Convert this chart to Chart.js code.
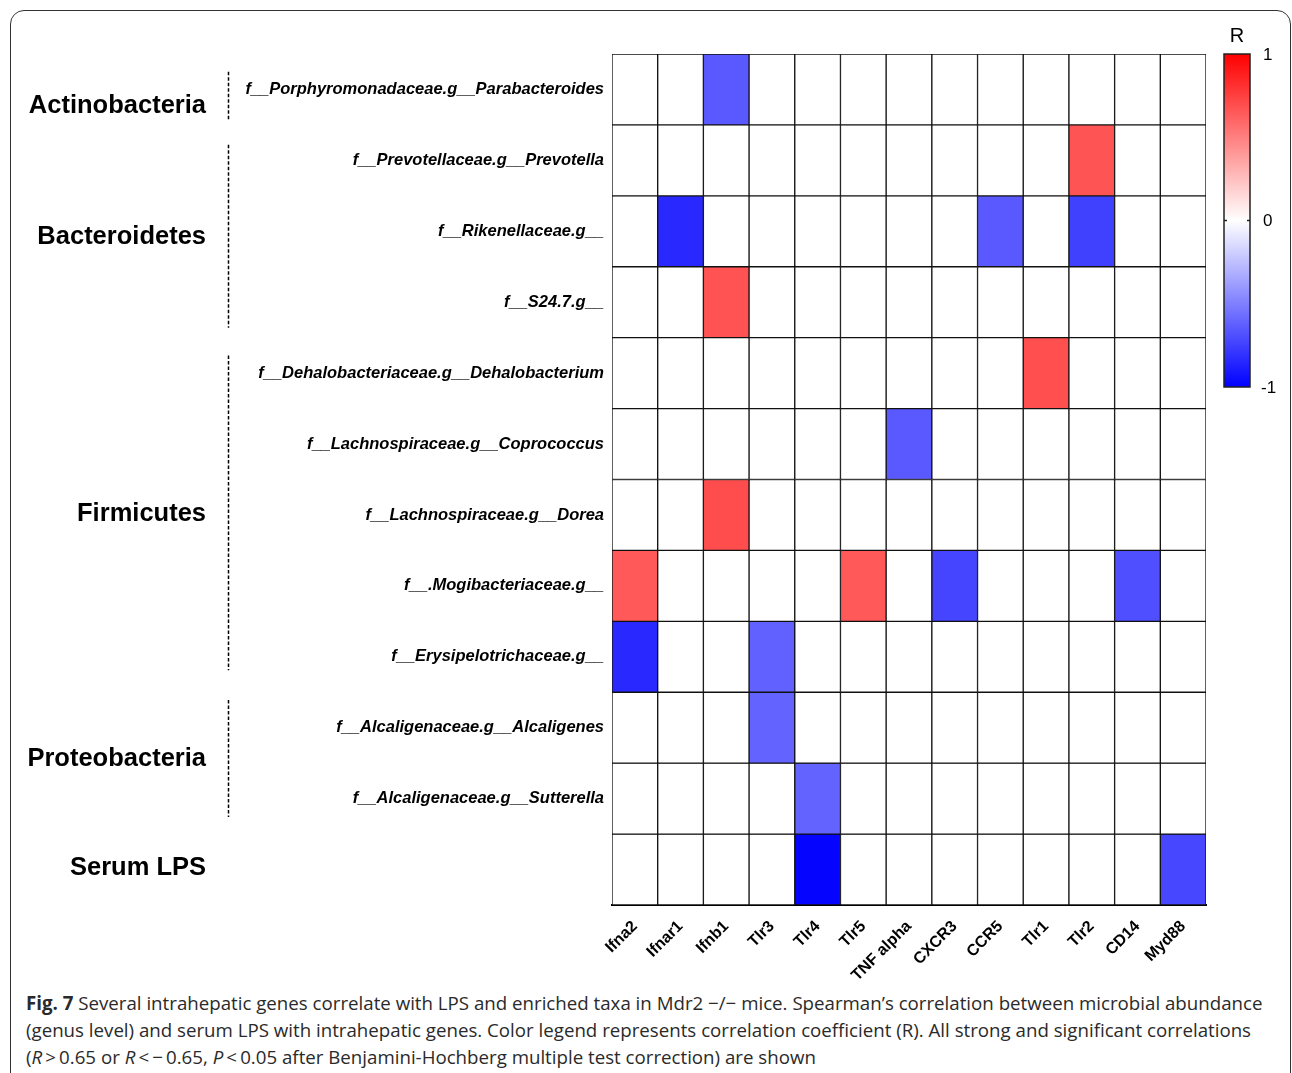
<!DOCTYPE html>
<html>
<head>
<meta charset="utf-8">
<script src="https://cdn.jsdelivr.net/npm/chart.js@4.4.1/dist/chart.umd.min.js"></script>
<style>
    body { margin: 0; background: #fff; width: 1292px; height: 1073px; overflow: hidden; position: relative; }
    #frame { position: absolute; left: 10px; top: 10px; width: 1279px; height: 1100px; border: 1.5px solid #333; border-radius: 14px; }
    #wrap { position: absolute; left: 0; top: 0; width: 1292px; height: 985px; }
    #caption { position: absolute; left: 26px; top: 989px; font-family: "Open Sans", sans-serif; font-size: 18.7px; line-height: 27px; color: #2a2a2a; white-space: nowrap; }
    #caption b { font-weight: 700; }
</style>
</head>
<body>
<div id="frame"></div>
<div id="wrap"><canvas id="heat"></canvas></div>
<div id="caption">
    <b>Fig. 7</b> Several intrahepatic genes correlate with LPS and enriched taxa in Mdr2 &minus;/&minus; mice. Spearman&rsquo;s correlation between microbial abundance<br>
    (genus level) and serum LPS with intrahepatic genes. Color legend represents correlation coefficient (R). All strong and significant correlations<br>
    (<i>R</i>&thinsp;&gt;&thinsp;0.65 or <i>R</i>&thinsp;&lt;&thinsp;&minus;&thinsp;0.65, <i>P</i>&thinsp;&lt;&thinsp;0.05 after Benjamini-Hochberg multiple test correction) are shown
</div>
<script>
// ------------------ DADOS ------------------
const genes = ["Ifna2", "Ifnar1", "Ifnb1", "Tlr3", "Tlr4", "Tlr5", "TNF alpha", "CXCR3", "CCR5", "Tlr1", "Tlr2", "CD14", "Myd88"];
const taxa = [
    "f__Porphyromonadaceae.g__Parabacteroides",
    "f__Prevotellaceae.g__Prevotella",
    "f__Rikenellaceae.g__",
    "f__S24.7.g__",
    "f__Dehalobacteriaceae.g__Dehalobacterium",
    "f__Lachnospiraceae.g__Coprococcus",
    "f__Lachnospiraceae.g__Dorea",
    "f__.Mogibacteriaceae.g__",
    "f__Erysipelotrichaceae.g__",
    "f__Alcaligenaceae.g__Alcaligenes",
    "f__Alcaligenaceae.g__Sutterella",
    ""
];
const phyla = ["Actinobacteria", "Bacteroidetes", "Firmicutes", "Proteobacteria", "Serum LPS"];
const N = null;
// R por linha (mesma ordem de genes)
const rParabacteroides = [N, N, -0.65, N, N, N, N, N, N, N, N, N, N];
const rPrevotella      = [N, N, N, N, N, N, N, N, N, N, 0.67, N, N];
const rRikenellaceae   = [N, -0.84, N, N, N, N, N, N, -0.65, N, -0.75, N, N];
const rS247            = [N, N, 0.68, N, N, N, N, N, N, N, N, N, N];
const rDehalobacterium = [N, N, N, N, N, N, N, N, N, 0.69, N, N, N];
const rCoprococcus     = [N, N, N, N, N, N, -0.65, N, N, N, N, N, N];
const rDorea           = [N, N, 0.70, N, N, N, N, N, N, N, N, N, N];
const rMogibacteriaceae = [0.65, N, N, N, N, 0.65, N, -0.73, N, N, N, -0.69, N];
const rErysipelotrichaceae = [-0.84, N, N, -0.62, N, N, N, N, N, N, N, N, N];
const rAlcaligenes     = [N, N, N, -0.61, N, N, N, N, N, N, N, N, N];
const rSutterella      = [N, N, N, N, -0.61, N, N, N, N, N, N, N, N];
const rSerumLPS        = [N, N, N, N, -0.98, N, N, N, N, N, N, N, -0.72];
const colorbarTicks = [1, 0, -1];

const rows = [rParabacteroides, rPrevotella, rRikenellaceae, rS247, rDehalobacterium, rCoprococcus,
    rDorea, rMogibacteriaceae, rErysipelotrichaceae, rAlcaligenes, rSutterella, rSerumLPS];

// escala azul - branco - vermelho
function corR(v) {
    if (v === null || v === undefined) return "#ffffff";
    const k = Math.round(255 * (1 - Math.abs(v)));
    return v > 0 ? `rgb(255,${k},${k})` : `rgb(${k},${k},255)`;
}

// ------------------ GRUPOS (FILOS) ------------------
// posicoes em unidades de linha
const grupos = [
    { nome: phyla[0], de: 0.25, ate: 0.93, txt: 0.73 },
    { nome: phyla[1], de: 1.28, ate: 3.86, txt: 2.58 },
    { nome: phyla[2], de: 4.25, ate: 8.69, txt: 6.48 },
    { nome: phyla[3], de: 9.11, ate: 10.76, txt: 9.94 },
    { nome: phyla[4], de: null, ate: null, txt: 11.48 }
];

const filosPlugin = {
    id: "filos",
    afterDraw(chart) {
        const ctx = chart.ctx;
        const y = chart.scales.y;
        ctx.save();
        ctx.fillStyle = "#000";
        ctx.font = "bold 25.5px 'Liberation Sans', Arial, sans-serif";
        ctx.textAlign = "right";
        ctx.textBaseline = "middle";
        grupos.forEach(g => {
            ctx.fillText(g.nome, 206, y.getPixelForValue(g.txt));
            if (g.de !== null) {
                ctx.beginPath();
                ctx.setLineDash([3.5, 2]);
                ctx.lineWidth = 1.5;
                ctx.strokeStyle = "#000";
                ctx.moveTo(228.5, y.getPixelForValue(g.de));
                ctx.lineTo(228.5, y.getPixelForValue(g.ate));
                ctx.stroke();
            }
        });
        ctx.restore();
    }
};

// ------------------ BARRA DE CORES ------------------
const barraPlugin = {
    id: "barraCores",
    afterDraw(chart) {
        const ctx = chart.ctx;
        const top = chart.chartArea.top, x0 = 1224, x1 = 1250, y1 = 387;
        const grad = ctx.createLinearGradient(0, top, 0, y1);
        grad.addColorStop(0, corR(1));
        grad.addColorStop(0.5, corR(0));
        grad.addColorStop(1, corR(-1));
        ctx.save();
        ctx.fillStyle = grad;
        ctx.fillRect(x0, top, x1 - x0, y1 - top);
        ctx.strokeStyle = "#222";
        ctx.lineWidth = 1.5;
        ctx.strokeRect(x0, top, x1 - x0, y1 - top);
        const yPix = v => top + (1 - v) / 2 * (y1 - top);
        ctx.beginPath();
        ctx.moveTo(x0, yPix(0)); ctx.lineTo(x0 + 3, yPix(0));
        ctx.moveTo(x1 - 3, yPix(0)); ctx.lineTo(x1, yPix(0));
        ctx.stroke();
        ctx.fillStyle = "#000";
        ctx.font = "17px 'Liberation Sans', Arial, sans-serif";
        ctx.textAlign = "left";
        ctx.textBaseline = "middle";
        colorbarTicks.forEach(v => ctx.fillText(String(v), v < 0 ? 1261 : 1263, yPix(v) + 1));
        ctx.font = "20px 'Liberation Sans', Arial, sans-serif";
        ctx.textAlign = "center";
        ctx.fillText("R", 1237, 36);
        ctx.restore();
    }
};

document.addEventListener("DOMContentLoaded", () => {
    const datasets = rows.map((valores, r) => ({
        label: taxa[r] || "Serum LPS",
        data: valores.map(() => [r, r + 1]),
        backgroundColor: valores.map(corR),
        borderColor: "#111",
        borderWidth: 1,
        borderSkipped: false,
        grouped: false,
        categoryPercentage: 1,
        barPercentage: 1
    }));

    new Chart(document.getElementById("heat"), {
        type: "bar",
        data: { labels: genes, datasets },
        options: {
            responsive: true,
            maintainAspectRatio: false,
            animation: false,
            layout: { padding: { top: 54, right: 86, left: 0, bottom: 0 } },
            plugins: { legend: { display: false }, tooltip: { enabled: false } },
            scales: {
                x: {
                    grid: { display: false },
                    border: { display: true, color: "#000", width: 2 },
                    ticks: {
                        color: "#000",
                        font: { family: "'Liberation Sans', Arial, sans-serif", size: 16, weight: "bold" },
                        minRotation: 45, maxRotation: 45, padding: 4, autoSkip: false
                    },
                    afterFit: s => { s.height = 80; }
                },
                y: {
                    min: 0, max: 12, reverse: true,
                    grid: { display: false },
                    border: { display: false },
                    afterBuildTicks: s => { s.ticks = taxa.map((_, i) => ({ value: i + 0.5 })); },
                    ticks: {
                        color: "#000",
                        padding: 0,
                        font: { family: "'Liberation Sans', Arial, sans-serif", size: 16.5, weight: "bold", style: "italic" },
                        callback: v => taxa[Math.floor(v)]
                    },
                    afterFit: s => { s.width = 612; }
                }
            }
        },
        plugins: [filosPlugin, barraPlugin]
    });
});
</script>
</body>
</html>
